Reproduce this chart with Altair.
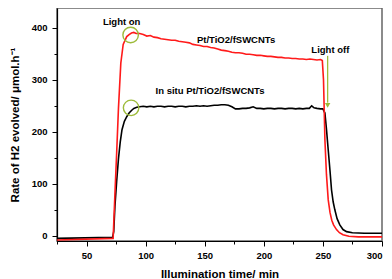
import altair as alt
import pandas as pd

# ---- data ----
t_red = [25, 72.5, 74, 75.5, 77, 79, 81, 84, 86, 88, 90, 92, 95, 98, 101, 104, 107, 110, 113, 116,
         119, 122, 125, 128, 131, 134, 137, 140, 143, 146, 149, 152, 155, 158, 161, 164, 167, 170,
         173, 176, 179, 182, 185, 188, 191, 194, 197, 200, 203, 206, 209, 212, 215, 218, 221, 224,
         227, 230, 233, 236, 239, 242, 245, 248, 249.5, 250.5, 251.7, 253, 254.5, 256, 257.5, 259,
         261.5, 264, 267, 272, 280, 290, 300]
v_red = [-8, -5, 80, 160, 245, 332, 368, 383, 387, 390, 391, 389, 389, 387, 384, 385, 382, 381, 379, 378,
         377, 376, 376, 374, 373, 372, 371, 368, 367, 366, 364, 364, 362, 361, 359, 357, 356, 355,
         353, 352, 352, 351, 349, 349, 348, 347, 347, 346, 345, 345, 344, 343, 343, 342, 342, 341,
         341, 340, 340, 339, 340, 339, 338, 339, 337, 300, 184, 118, 69, 45, 30, 21,
         12, 6, 2, -1, -2, -2, -2]

t_blk = [25, 72, 73, 74, 75.5, 77, 78.5, 80, 82, 84, 86, 88, 90, 92.5, 95, 98, 101, 104, 107, 110,
         113, 116, 119, 122, 125, 128, 131, 134, 137, 140, 143, 146, 149, 152, 155, 158, 161, 164,
         167, 170, 173, 176, 179, 182, 185, 188, 191, 194, 197, 200, 203, 206, 209, 212, 215, 218,
         221, 224, 227, 230, 233, 236, 238.5, 240.5, 242.5, 245, 248, 250, 251.7, 253, 254.5, 256,
         257.3, 258.7, 260.1, 262, 264.3, 267, 270, 275, 285, 300]
v_blk = [-5, -3, 8, 56, 105, 148, 180, 204, 220, 229, 236, 241, 245, 247, 248, 249, 248, 249, 248, 249,
         249, 248, 249, 249, 248, 249, 249, 248, 249, 249, 250, 249, 250, 249, 250, 251, 251, 252,
         252, 251, 248, 244, 244, 245, 245, 246, 248, 245, 245, 244, 245, 245, 244, 245, 245, 244,
         245, 245, 244, 245, 244, 245, 245, 250, 246, 245, 244, 244, 236, 205, 165, 125,
         88, 65, 50, 33, 21, 12, 8, 6, 5, 5]

x_major = [50, 100, 150, 200, 250, 300]
x_minor = [25, 75, 125, 175, 225, 275]
y_major = [0, 100, 200, 300, 400]
y_minor = [50, 150, 250, 350]

labels_txt = ["Light on", "Pt/TiO2/fSWCNTs", "In situ Pt/TiO2/fSWCNTs", "Light off"]
labels_x = [79.7, 176.5, 154.5, 256.3]
labels_y = [405, 370, 272.7, 352]

circle_x = [87.3, 87.7]
circle_y = [386, 246]

arrow_x = [254]
arrow_y1 = [346]
arrow_y2 = [256]
arrow_tip = [251]

# ---- chart ----
FONT = "Liberation Sans"
XDOM = [25, 300]
YDOM = [-10, 438]
GREEN = "#9dbb3a"

xs = alt.Scale(domain=XDOM, nice=False, zero=False)
ys = alt.Scale(domain=YDOM, nice=False, zero=False)

red_df = pd.DataFrame({"t": t_red, "v": v_red})
blk_df = pd.DataFrame({"t": t_blk, "v": v_blk})

x_axis = alt.Axis(values=x_major, title="Illumination time/ min", orient="bottom",
                  labelFont=FONT, labelFontSize=9.5, labelFontWeight="bold", labelColor="black",
                  titleFont=FONT, titleFontSize=11.5, titleFontWeight="bold", titleColor="black",
                  tickSize=5, tickColor="black", domainColor="black", domainWidth=1.2,
                  labelPadding=4, titlePadding=9, grid=False)
y_axis = alt.Axis(values=y_major, title="Rate of H2 evolved/ μmol.h⁻¹", orient="left",
                  labelFont=FONT, labelFontSize=9.5, labelFontWeight="bold", labelColor="black",
                  titleFont=FONT, titleFontSize=11.5, titleFontWeight="bold", titleColor="black",
                  tickSize=5, tickColor="black", domainColor="black", domainWidth=1.2,
                  labelPadding=5, titlePadding=11, grid=False)

black_line = alt.Chart(blk_df).mark_line(color="black", strokeWidth=1.6).encode(
    x=alt.X("t:Q", scale=xs, axis=x_axis),
    y=alt.Y("v:Q", scale=ys, axis=y_axis),
)
red_line = alt.Chart(red_df).mark_line(color="#ff1a1a", strokeWidth=1.6).encode(
    x=alt.X("t:Q", scale=xs, axis=None),
    y=alt.Y("v:Q", scale=ys, axis=None),
)

minor_df = pd.DataFrame({"t": [25], "v": [0]})
minor = alt.Chart(minor_df).mark_point(opacity=0).encode(
    x=alt.X("t:Q", scale=xs, axis=alt.Axis(values=x_minor, labels=False, title=None, domain=False,
                                            tickSize=3, tickColor="black", grid=False, orient="bottom")),
    y=alt.Y("v:Q", scale=ys, axis=alt.Axis(values=y_minor, labels=False, title=None, domain=False,
                                            tickSize=3, tickColor="black", grid=False, orient="left")),
)

circ_df = pd.DataFrame({"t": circle_x, "v": circle_y})
circles = alt.Chart(circ_df).mark_point(shape="circle", filled=False, size=240, strokeWidth=1.4,
                                        color=GREEN, opacity=1).encode(
    x=alt.X("t:Q", scale=xs, axis=None), y=alt.Y("v:Q", scale=ys, axis=None))

txt_df = pd.DataFrame({"t": labels_x, "v": labels_y, "s": labels_txt})
texts = alt.Chart(txt_df).mark_text(font=FONT, fontSize=9.5, fontWeight="bold", color="black",
                                    align="center", baseline="alphabetic").encode(
    x=alt.X("t:Q", scale=xs, axis=None), y=alt.Y("v:Q", scale=ys, axis=None), text="s:N")

arr_df = pd.DataFrame({"t": arrow_x, "y1": arrow_y1, "y2": arrow_y2, "tip": arrow_tip})
arrow = alt.Chart(arr_df).mark_rule(color=GREEN, strokeWidth=1.3).encode(
    x=alt.X("t:Q", scale=xs, axis=None), y=alt.Y("y1:Q", scale=ys, axis=None), y2="y2:Q")
arrow_head = alt.Chart(arr_df).mark_point(shape="triangle-down", filled=True, size=30,
                                          color=GREEN, opacity=1).encode(
    x=alt.X("t:Q", scale=xs, axis=None), y=alt.Y("tip:Q", scale=ys, axis=None))

chart = alt.layer(black_line, minor, red_line, circles, texts, arrow, arrow_head).resolve_axis(
    x="independent", y="independent"
).properties(
    width=325, height=233,
    autosize=alt.AutoSizeParams(type="none"),
    padding={"left": 49, "top": 0, "right": 2, "bottom": 38},
    background="white",
).configure_view(stroke="#666666", strokeWidth=1.5)

chart.save("out.html", embed_options={"renderer": "svg", "actions": False})
